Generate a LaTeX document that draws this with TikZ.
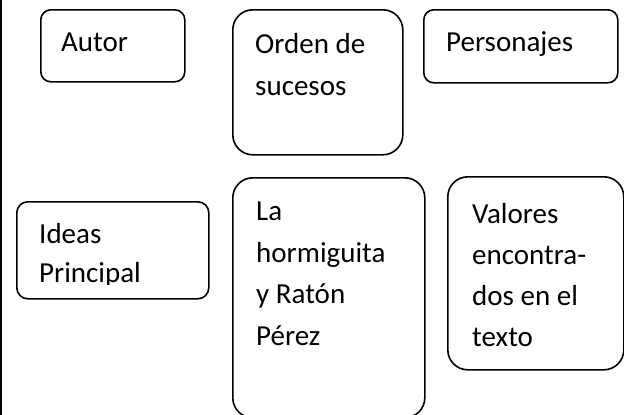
\documentclass[tikz,border=0pt]{standalone}
\usepackage{fontspec}
\setmainfont{Carlito}
\begin{document}
\begin{tikzpicture}[x=1pt,y=1pt,
  box/.style={draw=black, line width=1.6pt, anchor=north west, inner sep=0pt},
  txt/.style={anchor=base west, inner sep=0pt, font=\fontsize{29}{41}\selectfont, text=black}]
\useasboundingbox (0,0) rectangle (624,-415);
% left border
\draw[line width=1.8pt] (0.9,0) -- (0.9,-415);
% top row
\node[box, rounded corners=10pt, minimum width=144pt, minimum height=72pt] (autor) at (40,-9) {};
\node[txt] (tautor) at (61,-51) {Autor};
\node[box, rounded corners=20pt, minimum width=170pt, minimum height=145pt] (orden) at (232,-9) {};
\node[txt] (torden1) at (255,-53) {Orden de};
\node[txt] (torden2) at (255,-95) {sucesos};
\node[box, rounded corners=10pt, minimum width=194pt, minimum height=73pt] (pers) at (423,-9) {};
\node[txt] (tpers) at (446,-51) {Personajes};
% bottom row
\node[box, rounded corners=11pt, minimum width=192pt, minimum height=97pt] (ideas) at (16,-201) {};
\begin{scope}
\clip (0,-180) rectangle (624,-284);
\node[txt] (tideas1) at (39,-243) {Ideas};
\node[txt] (tideas2) at (39,-282) {Principal};
\end{scope}
\node[box, rounded corners=20pt, minimum width=192pt, minimum height=240pt] (horm) at (232,-177) {};
\node[txt] (th1) at (256,-220) {La};
\node[txt] (th2) at (256,-262) {hormiguita};
\node[txt] (th3) at (256,-303) {y Ratón};
\node[txt] (th4) at (256,-345) {Pérez};
\node[box, rounded corners=20pt, minimum width=176pt, minimum height=193pt] (val) at (447,-176) {};
\node[txt] (tv1) at (472,-223) {Valores};
\node[txt] (tv2) at (472,-264) {encontra-};
\node[txt] (tv3) at (472,-305) {dos en el};
\node[txt] (tv4) at (472,-346) {texto};
\end{tikzpicture}
\end{document}
